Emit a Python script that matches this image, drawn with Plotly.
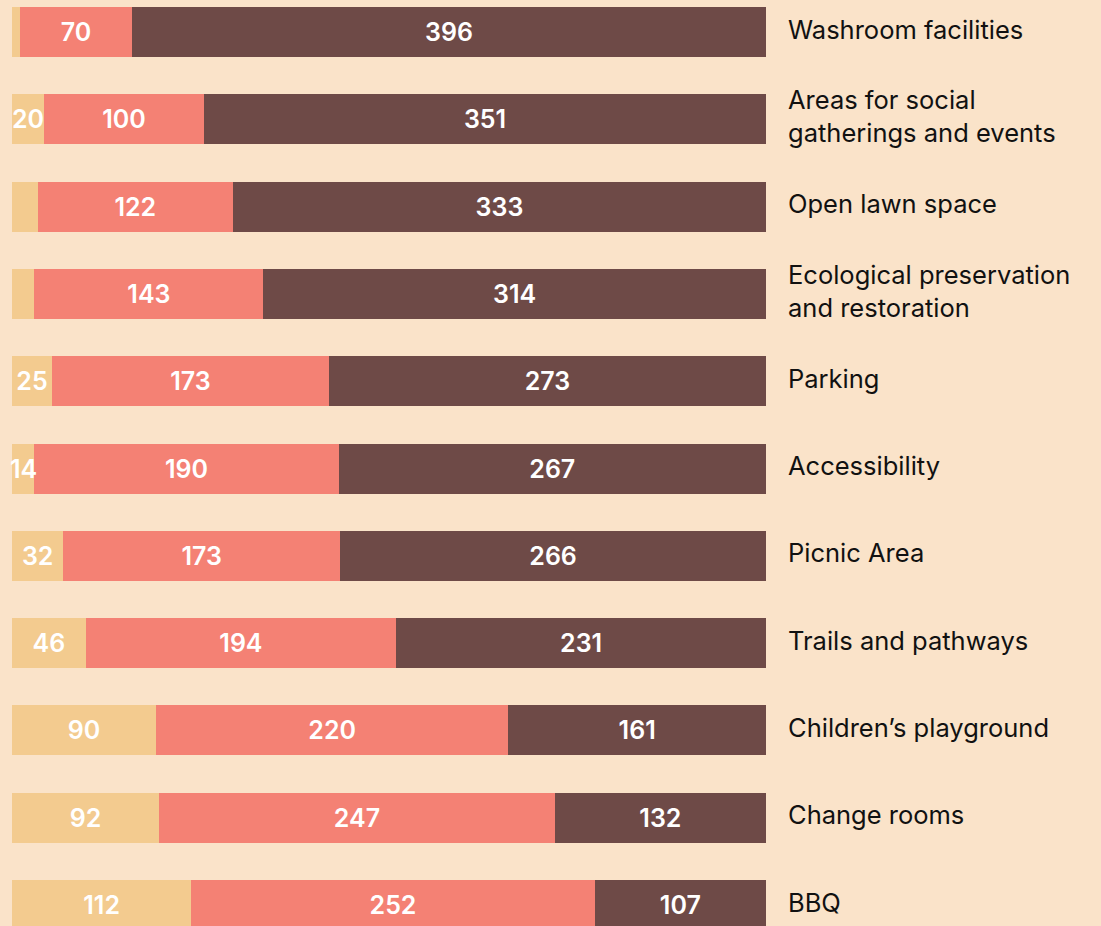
import plotly.graph_objects as go

categories = [
    "Washroom facilities",
    "Areas for social<br>gatherings and events",
    "Open lawn space",
    "Ecological preservation<br>and restoration",
    "Parking",
    "Accessibility",
    "Picnic Area",
    "Trails and pathways",
    "Children\u2019s playground",
    "Change rooms",
    "BBQ",
]
low = [5, 20, 16, 14, 25, 14, 32, 46, 90, 92, 112]
# which low values are printed inside the bar / overflowing the bar
low_text = ["", "20", "", "", "25", "", "32", "46", "90", "92", "112"]
low_overflow = [False, False, False, False, False, True, False, False, False, False, False]
medium = [70, 100, 122, 143, 173, 190, 173, 194, 220, 247, 252]
high = [396, 351, 333, 314, 273, 267, 266, 231, 161, 132, 107]

colors = ["#F3CB8F", "#F48174", "#6E4A47"]
BG = "#FAE3C9"
FONT = "Inter, Roboto, sans-serif"

fig = go.Figure()
series = [
    (low, low_text, colors[0]),
    (medium, [str(v) for v in medium], colors[1]),
    (high, [str(v) for v in high], colors[2]),
]
for vals, txt, col in series:
    fig.add_trace(go.Bar(
        y=categories, x=vals, orientation="h",
        marker=dict(color=col, line=dict(width=0)),
        width=0.573,
        text=txt, texttemplate="%{text}",
        textposition="inside", insidetextanchor="middle",
        textangle=0, constraintext="none", cliponaxis=False,
        textfont=dict(color="white", size=25, family=FONT, weight=600),
        hoverinfo="skip", showlegend=False,
    ))

for c, v, ov in zip(categories, low, low_overflow):
    if ov:
        fig.add_annotation(
            x=v / 2, y=c, xref="x", yref="y", text=str(v), showarrow=False,
            xanchor="center", yanchor="middle",
            font=dict(color="white", size=25, family=FONT, weight=600),
        )

for c in categories:
    fig.add_annotation(
        x=1, xref="paper", xshift=20, xanchor="left",
        y=c, yref="y", yanchor="middle", yshift=3,
        text=c, showarrow=False, align="left",
        font=dict(size=25.5, color="#111111", family=FONT),
    )

fig.update_layout(
    barmode="stack",
    width=1101, height=926,
    margin=dict(l=12, r=335, t=0, b=0),
    paper_bgcolor=BG, plot_bgcolor=BG,
    xaxis=dict(range=[0, 471], visible=False, fixedrange=True),
    yaxis=dict(categoryorder="array", categoryarray=categories,
               range=[10.24, -0.3665], visible=False, fixedrange=True),
    bargap=0,
)

fig.write_html(
    "out.html",
    config={"displayModeBar": False, "staticPlot": True},
    post_script="document.body.style.margin='0px';document.body.style.overflow='hidden';document.body.style.background='%s';" % BG,
)
